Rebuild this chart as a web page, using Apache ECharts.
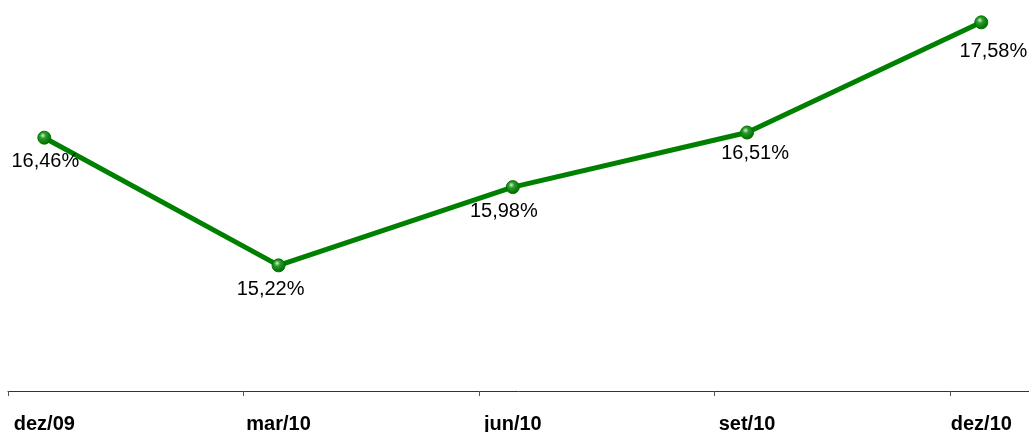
<!DOCTYPE html>
<html>
<head>
<meta charset="utf-8">
<script src="https://cdn.jsdelivr.net/npm/echarts@6/dist/echarts.min.js"></script>
<style>
	html, body { margin: 0; padding: 0; background: #fff; }
	#grafico { width: 1029px; height: 432px; }
</style>
</head>
<body>
<div id="grafico"></div>
<script>
var trimestres = ['dez/09', 'mar/10', 'jun/10', 'set/10', 'dez/10'];
var indice = [16.46, 15.22, 15.98, 16.51, 17.58]; // % por trimestre
var deslocRotulo = [[1, 0], [-8, 0], [-9, 0], [8, -3], [12, 5]]; // ajuste fino dos rótulos

var myChart = echarts.init(document.getElementById('grafico'));

var pontos = [];
for (var i = 0; i < indice.length; i++) {
	pontos.push({
		value: indice[i],
		label: { offset: deslocRotulo[i] }
	});
}

myChart.setOption({
	animation: false,
	grid: [
		// grade só para a linha do eixo e os tracinhos (deslocados dos pontos)
		{ left: 8, right: 0, top: 10, bottom: 41, outerBoundsMode: 'none', containLabel: false },
		{ left: 44.3, right: 47.7, top: 10, bottom: 41, outerBoundsMode: 'none', containLabel: false }
	],
	xAxis: [
		{
			gridIndex: 0,
			type: 'value',
			min: 0,
			max: 4.335,
			interval: 1,
			splitLine: { show: false },
			axisLine: { show: true, onZero: false, lineStyle: { color: '#333', width: 1 } },
			axisTick: { show: true, length: 5, lineStyle: { color: '#555', width: 1 } },
			axisLabel: { show: false }
		},
		{
			gridIndex: 1,
			type: 'category',
			boundaryGap: false,
			data: trimestres,
			axisLine: { show: false },
			axisTick: { show: false },
			axisLabel: {
				margin: 23,
				color: '#000',
				fontFamily: 'Liberation Sans, Arial, sans-serif',
				fontWeight: 'bold',
				fontSize: 20
			}
		}
	],
	yAxis: [
		{ gridIndex: 0, type: 'value', min: 14, max: 17.7, show: false },
		{ gridIndex: 1, type: 'value', min: 14, max: 17.7, show: false }
	],
	series: [
		{
			// série vazia só para manter a grade dos tracinhos ativa
			type: 'line',
			xAxisIndex: 0,
			yAxisIndex: 0,
			data: [],
			silent: true
		},
		{
			name: 'índice',
			type: 'line',
			xAxisIndex: 1,
			yAxisIndex: 1,
			data: pontos,
			symbol: 'circle',
			symbolSize: 13,
			lineStyle: { color: '#008000', width: 5 },
			itemStyle: {
				color: {
					type: 'radial', x: 0.4, y: 0.35, r: 0.6,
					colorStops: [
						{ offset: 0, color: '#d8f0d8' },
						{ offset: 0.35, color: '#2a9a2a' },
						{ offset: 1, color: '#007000' }
					]
				},
				borderColor: '#007000',
				borderWidth: 1
			},
			label: {
				show: true,
				position: 'bottom',
				distance: 7,
				color: '#000',
				fontFamily: 'Liberation Sans, Arial, sans-serif',
				fontSize: 20,
				formatter: function (p) {
					return p.value.toFixed(2).replace('.', ',') + '%';
				}
			}
		}
	]
});
</script>
</body>
</html>
